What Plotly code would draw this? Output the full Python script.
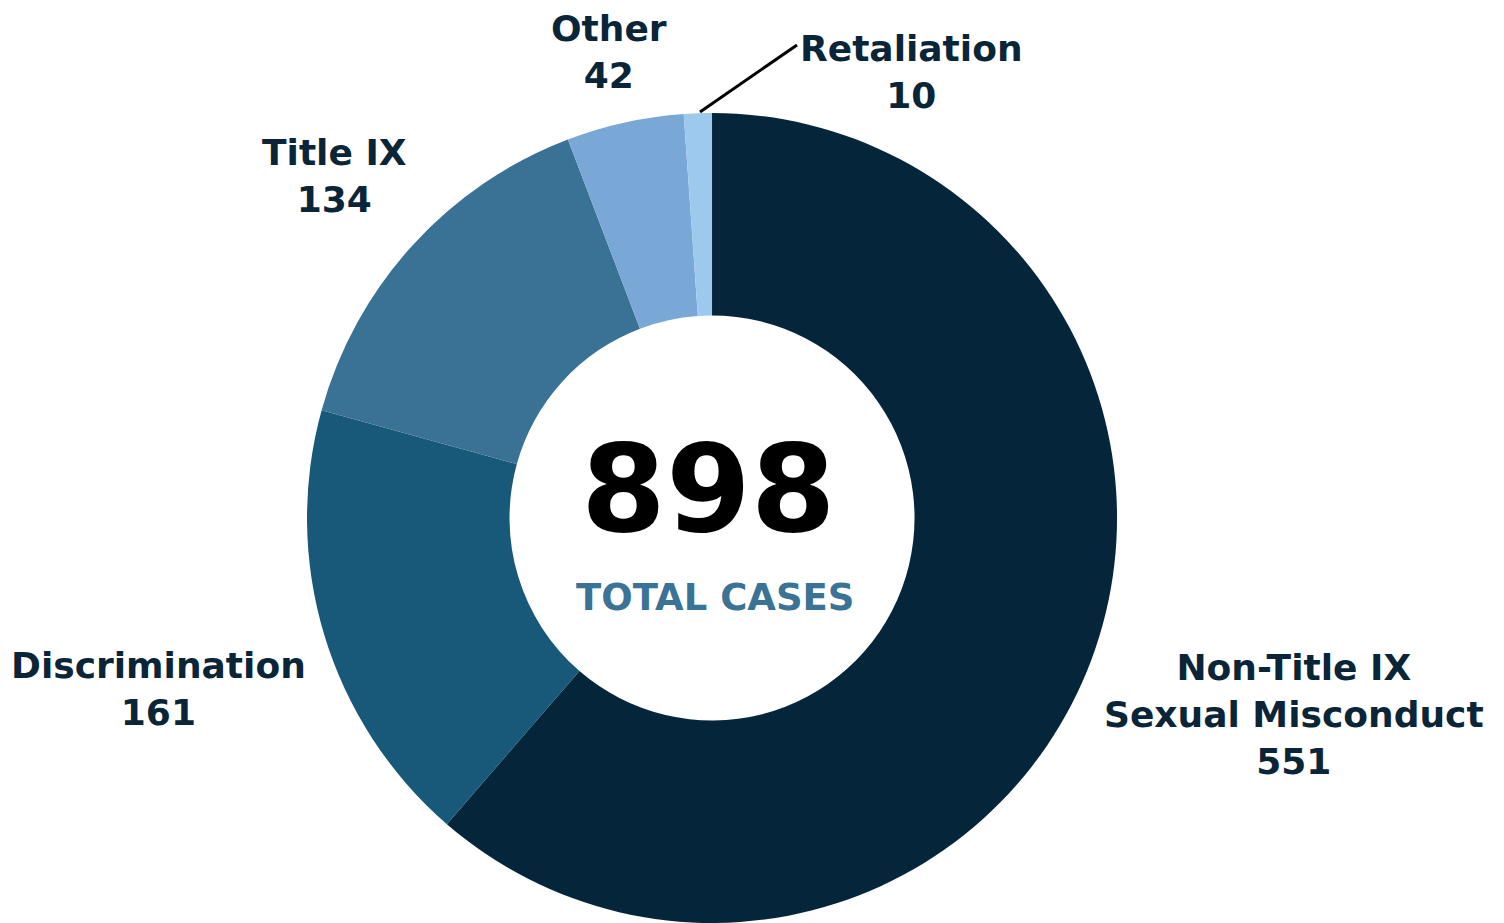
import plotly.graph_objects as go

categories = ["Non-Title IX<br>Sexual Misconduct", "Discrimination", "Title IX", "Other", "Retaliation"]
cases = [551, 161, 134, 42, 10]
colors = ["#05263A", "#185878", "#397295", "#79A8D6", "#9DCAEC"]
total = sum(cases)

W, H = 1504, 923
OFF = 8  # page margin offset of the rendered figure
FONT = "DejaVu Sans"
TXT = "#0A2538"


def px(x):
    return (x - OFF) / W


def py(y):
    return 1 - (y - OFF) / H


fig = go.Figure(go.Pie(
    labels=categories, values=cases, hole=0.5, sort=False, direction="clockwise",
    rotation=0, marker=dict(colors=colors, line=dict(width=0)),
    textinfo="none", hoverinfo="label+value", showlegend=False,
    domain=dict(x=[0.1988, 0.7374], y=[0.0087, 0.8863]),
))

# label placement in pixels (center of each text block)
label_pos = {
    "Other": (609, 52),
    "Retaliation": (911, 72),
    "Title IX": (334, 176),
    "Discrimination": (158, 689),
    "Non-Title IX<br>Sexual Misconduct": (1294, 714),
}
for cat, val in zip(categories, cases):
    x, y = label_pos[cat]
    fig.add_annotation(
        x=px(x), y=py(y), xref="paper", yref="paper", showarrow=False,
        xanchor="center", yanchor="middle",
        text=f"<b>{cat}<br>{val}</b>", align="center",
        font=dict(family=FONT, size=36, color=TXT),
    )

# leader line for the tiny slice
fig.add_shape(type="line", xref="paper", yref="paper",
              x0=px(700), y0=py(112), x1=px(797), y1=py(45),
              line=dict(color="black", width=3))

fig.add_annotation(x=px(708), y=py(489), xref="paper", yref="paper", showarrow=False,
                   xanchor="center", yanchor="middle",
                   text=f"<b>{total}</b>", font=dict(family=FONT, size=122, color="black"))
fig.add_annotation(x=px(715), y=py(597), xref="paper", yref="paper", showarrow=False,
                   xanchor="center", yanchor="middle",
                   text="<b>TOTAL CASES</b>", font=dict(family=FONT, size=37, color="#3A7396"))

fig.update_layout(
    width=W, height=H, margin=dict(l=0, r=0, t=0, b=0),
    paper_bgcolor="white", plot_bgcolor="white",
)
fig.write_html("out.html")
